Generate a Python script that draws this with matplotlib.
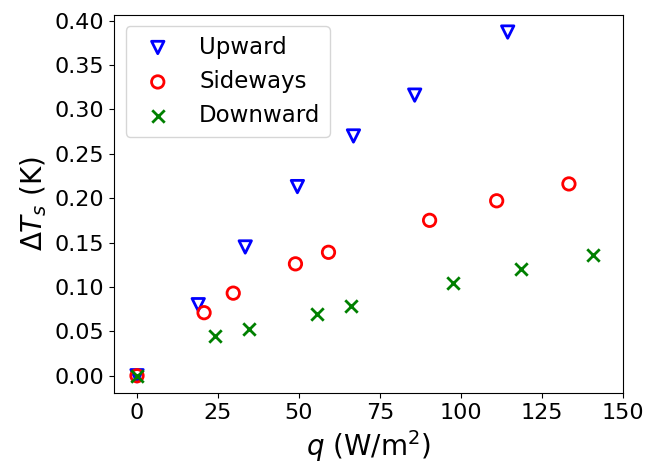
import matplotlib
matplotlib.use("Agg")
import matplotlib.pyplot as plt
import numpy as np

# heat flux q (W/m^2) and surface temperature rise (K)
q_up = [0, 18.9, 33.4, 49.5, 66.8, 85.7, 114.4]
dT_up = [0.0, 0.080, 0.145, 0.213, 0.270, 0.316, 0.387]

q_side = [0, 20.7, 29.7, 48.9, 59.1, 90.3, 111.0, 133.3]
dT_side = [0.0, 0.071, 0.093, 0.126, 0.139, 0.175, 0.197, 0.216]

q_down = [0, 24.1, 34.6, 55.7, 65.9, 97.4, 118.6, 140.6]
dT_down = [0.0, 0.045, 0.053, 0.070, 0.079, 0.104, 0.120, 0.136]

plt.rcParams.update({
    'font.size': 16,
    'xtick.labelsize': 16,
    'ytick.labelsize': 16,
    'legend.fontsize': 16.5,
})

fig, ax = plt.subplots(figsize=(6.49, 4.65), dpi=100)
fig.subplots_adjust(left=0.176, right=0.96, top=0.968, bottom=0.155)

ax.scatter(q_up, dT_up, s=80, marker='v', facecolors='none',
           edgecolors='blue', linewidths=2, label='Upward')
ax.scatter(q_side, dT_side, s=80, marker='o', facecolors='none',
           edgecolors='red', linewidths=2, label='Sideways')
ax.scatter(q_down, dT_down, s=80, marker='x', color='green',
           linewidths=2, label='Downward')

ax.set_xlim(right=150)
ax.set_yticks(np.arange(0, 0.41, 0.05))
ax.yaxis.set_major_formatter(plt.FormatStrFormatter('%.2f'))
ax.set_xlabel(r'$q$ (W/m$^2$)', fontsize=20)
ax.set_ylabel(r'$\Delta T_s$ (K)', fontsize=20)
ax.legend(loc='upper left')

fig.savefig('out.png', dpi=100)
